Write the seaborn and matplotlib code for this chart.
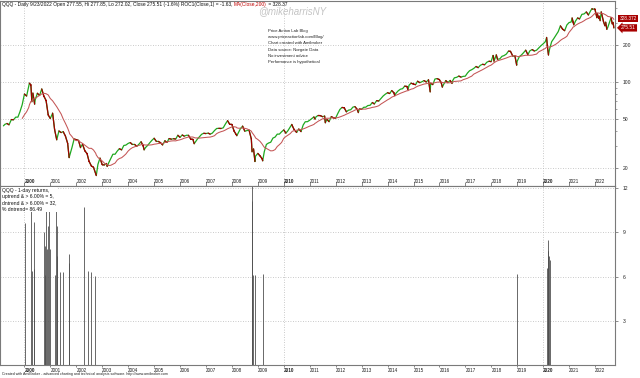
import numpy as np
import pandas as pd
import matplotlib
matplotlib.use("Agg")
import matplotlib.pyplot as plt
import matplotlib.dates as mdates
from matplotlib.ticker import FixedLocator, FixedFormatter, NullFormatter
from matplotlib.transforms import blended_transform_factory
import seaborn as sns

sns.set_style("white")
plt.rcParams['font.family'] = ['Liberation Sans', 'DejaVu Sans']

# ---------------- data ----------------
price_dates = [
    "1999-03-10", "1999-03-31", "1999-04-30", "1999-05-28", "1999-06-30", "1999-07-30", "1999-08-31",
    "1999-09-30", "1999-10-29", "1999-11-30", "1999-12-31",
    "2000-01-31", "2000-02-29", "2000-03-10", "2000-03-31", "2000-04-14", "2000-04-28", "2000-05-23",
    "2000-05-31", "2000-06-30", "2000-07-31", "2000-08-31", "2000-09-29", "2000-10-31", "2000-11-30",
    "2000-12-29",
    "2001-01-31", "2001-02-28", "2001-03-30", "2001-04-30", "2001-05-31", "2001-06-29", "2001-07-31",
    "2001-08-31", "2001-09-21", "2001-09-28", "2001-10-31", "2001-11-30", "2001-12-31",
    "2002-01-31", "2002-02-28", "2002-03-28", "2002-04-30", "2002-05-31", "2002-06-28", "2002-07-31",
    "2002-08-30", "2002-09-30", "2002-10-08", "2002-10-31", "2002-11-29", "2002-12-31",
    "2003-01-31", "2003-02-28", "2003-03-11", "2003-03-31", "2003-04-30", "2003-05-30", "2003-06-30",
    "2003-07-31", "2003-08-29", "2003-09-30", "2003-10-31", "2003-11-28", "2003-12-31",
    "2004-01-30", "2004-02-27", "2004-03-31", "2004-04-30", "2004-05-28", "2004-06-30", "2004-07-30",
    "2004-08-12", "2004-08-31", "2004-09-30", "2004-10-29", "2004-11-30", "2004-12-31",
    "2005-01-31", "2005-02-28", "2005-03-31", "2005-04-29", "2005-05-31", "2005-06-30", "2005-07-29",
    "2005-08-31", "2005-09-30", "2005-10-31", "2005-11-30", "2005-12-30",
    "2006-01-31", "2006-02-28", "2006-03-31", "2006-04-28", "2006-05-31", "2006-06-30", "2006-07-18",
    "2006-07-31", "2006-08-31", "2006-09-29", "2006-10-31", "2006-11-30", "2006-12-29",
    "2007-01-31", "2007-02-28", "2007-03-30", "2007-04-30", "2007-05-31", "2007-06-29", "2007-07-31",
    "2007-08-31", "2007-09-28", "2007-10-31", "2007-11-30", "2007-12-31",
    "2008-01-31", "2008-02-29", "2008-03-10", "2008-03-31", "2008-04-30", "2008-05-30", "2008-06-30",
    "2008-07-31", "2008-08-29", "2008-09-30", "2008-10-10", "2008-10-31", "2008-11-20", "2008-11-28",
    "2008-12-31",
    "2009-01-30", "2009-02-27", "2009-03-09", "2009-03-31", "2009-04-30", "2009-05-29", "2009-06-30",
    "2009-07-31", "2009-08-31", "2009-09-30", "2009-10-30", "2009-11-30", "2009-12-31",
    "2010-01-29", "2010-02-26", "2010-03-31", "2010-04-23", "2010-04-30", "2010-05-28", "2010-06-30",
    "2010-07-30", "2010-08-31", "2010-09-30", "2010-10-29", "2010-11-30", "2010-12-31",
    "2011-01-31", "2011-02-28", "2011-03-16", "2011-03-31", "2011-04-29", "2011-05-31", "2011-06-30",
    "2011-07-29", "2011-08-08", "2011-08-31", "2011-09-30", "2011-10-31", "2011-11-30", "2011-12-30",
    "2012-01-31", "2012-02-29", "2012-03-30", "2012-04-30", "2012-05-31", "2012-06-29", "2012-07-31",
    "2012-08-31", "2012-09-28", "2012-10-31", "2012-11-15", "2012-11-30", "2012-12-31",
    "2013-01-31", "2013-02-28", "2013-03-28", "2013-04-30", "2013-05-31", "2013-06-28", "2013-07-31",
    "2013-08-30", "2013-09-30", "2013-10-31", "2013-11-29", "2013-12-31",
    "2014-01-31", "2014-02-28", "2014-03-31", "2014-04-11", "2014-04-30", "2014-05-30", "2014-06-30",
    "2014-07-31", "2014-08-29", "2014-09-30", "2014-10-15", "2014-10-31", "2014-11-28", "2014-12-31",
    "2015-01-30", "2015-02-27", "2015-03-31", "2015-04-30", "2015-05-29", "2015-06-30", "2015-07-31",
    "2015-08-24", "2015-08-31", "2015-09-30", "2015-10-30", "2015-11-30", "2015-12-31",
    "2016-01-29", "2016-02-11", "2016-02-29", "2016-03-31", "2016-04-29", "2016-05-31", "2016-06-27",
    "2016-06-30", "2016-07-29", "2016-08-31", "2016-09-30", "2016-10-31", "2016-11-30", "2016-12-30",
    "2017-01-31", "2017-02-28", "2017-03-31", "2017-04-28", "2017-05-31", "2017-06-30", "2017-07-31",
    "2017-08-31", "2017-09-29", "2017-10-31", "2017-11-30", "2017-12-29",
    "2018-01-26", "2018-01-31", "2018-02-08", "2018-02-28", "2018-03-12", "2018-03-29", "2018-04-30",
    "2018-05-31", "2018-06-29", "2018-07-31", "2018-08-31", "2018-09-28", "2018-10-31", "2018-11-30",
    "2018-12-24", "2018-12-31",
    "2019-01-31", "2019-02-28", "2019-03-29", "2019-04-30", "2019-05-31", "2019-06-28", "2019-07-31",
    "2019-08-30", "2019-09-30", "2019-10-31", "2019-11-29", "2019-12-31",
    "2020-01-31", "2020-02-19", "2020-02-28", "2020-03-16", "2020-03-31", "2020-04-30", "2020-05-29",
    "2020-06-30", "2020-07-31", "2020-08-31", "2020-09-30", "2020-10-30", "2020-11-30", "2020-12-31",
    "2021-01-29", "2021-02-12", "2021-02-26", "2021-03-08", "2021-03-31", "2021-04-30", "2021-05-28",
    "2021-06-30", "2021-07-30", "2021-08-31", "2021-09-30", "2021-10-29", "2021-11-19", "2021-11-30",
    "2021-12-27", "2021-12-31",
    "2022-01-27", "2022-01-31", "2022-02-23", "2022-02-28", "2022-03-14", "2022-03-29", "2022-04-29",
    "2022-05-20", "2022-05-31", "2022-06-16", "2022-06-30", "2022-07-29", "2022-08-15", "2022-08-31",
    "2022-09-12", "2022-09-23",
]
price_close = [
    43.9, 45.2, 45.9, 44.8, 49.4, 49.2, 51.7,
    51.7, 57.2, 65.4, 79.7,
    76.8, 91.8, 97.7, 94.6, 69.0, 81.2, 65.9,
    71.5, 80.9, 77.6, 87.7, 76.8, 70.6, 53.9,
    50.4,
    55.7, 41.0, 33.8, 39.9, 38.7, 39.4, 36.2,
    31.6, 24.2, 25.1, 29.3, 34.3, 33.9,
    33.4, 29.2, 31.2, 27.5, 26.1, 22.6, 20.7,
    20.2, 17.9, 17.3, 21.3, 24.0, 21.2,
    21.1, 21.7, 20.5, 21.9, 23.8, 25.8, 25.8,
    27.4, 28.6, 28.0, 30.4, 30.6, 31.6,
    32.1, 31.0, 31.0, 29.9, 31.0, 32.6, 30.1,
    28.0, 29.2, 30.4, 31.9, 33.5, 34.8,
    32.8, 32.8, 32.0, 30.7, 33.2, 32.2, 34.6,
    34.2, 34.5, 34.3, 36.8, 35.4,
    37.0, 36.2, 36.8, 36.8, 34.2, 34.1, 31.4,
    32.2, 34.2, 35.7, 37.5, 38.2, 38.0,
    38.3, 37.6, 38.3, 40.2, 41.8, 41.9, 41.8,
    42.3, 45.2, 48.4, 45.2, 45.1,
    39.8, 37.4, 36.5, 38.5, 41.7, 43.7, 39.7,
    40.2, 40.5, 34.3, 27.0, 28.5, 22.5, 24.9,
    26.2,
    25.0, 23.8, 22.8, 27.0, 31.0, 31.8, 32.3,
    34.9, 35.6, 37.6, 37.6, 39.3, 40.7,
    38.3, 40.0, 43.0, 45.1, 44.0, 40.7, 38.8,
    41.4, 39.4, 44.6, 47.4, 47.5, 48.8,
    50.4, 51.9, 49.8, 52.1, 53.3, 53.2, 52.1,
    52.8, 46.5, 49.5, 47.5, 52.2, 51.1, 50.6,
    55.4, 59.7, 62.0, 61.6, 57.1, 58.9, 59.4,
    62.4, 63.0, 59.7, 56.3, 60.3, 59.9,
    62.2, 62.3, 64.2, 64.6, 68.0, 66.2, 70.4,
    70.0, 73.3, 76.9, 79.4, 81.7,
    80.5, 85.1, 81.6, 77.7, 81.0, 84.6, 87.3,
    88.1, 92.4, 91.9, 86.5, 94.2, 97.7, 96.1,
    95.0, 101.4, 98.7, 100.4, 102.6, 100.0, 104.3,
    83.0, 97.7, 95.1, 105.7, 106.4, 104.6,
    97.6, 90.7, 95.4, 102.6, 98.7, 102.8, 97.3,
    101.1, 108.0, 109.1, 111.6, 109.5, 111.0, 111.4,
    118.4, 123.3, 125.8, 128.8, 133.6, 130.7, 136.7,
    139.2, 138.1, 144.9, 147.4, 146.3,
    164.3, 160.3, 147.5, 158.6, 166.2, 152.9, 154.1,
    161.7, 163.9, 168.5, 178.2, 177.4, 162.2, 162.5,
    137.0, 147.4,
    160.8, 165.5, 172.5, 181.4, 166.9, 179.2, 183.5,
    178.6, 181.2, 189.0, 196.7, 204.1,
    212.5, 230.3, 198.9, 165.6, 184.7, 212.8, 225.0,
    240.2, 256.7, 286.1, 269.5, 261.3, 291.0, 304.3,
    307.7, 331.8, 306.8, 291.6, 312.7, 331.7, 326.0,
    355.3, 357.7, 371.4, 350.8, 378.3, 394.9, 390.7,
    393.7, 389.9,
    333.3, 361.2, 328.4, 343.3, 315.4, 372.1, 311.6,
    286.6, 306.6, 268.0, 278.9, 313.5, 333.8, 296.8,
    305.3, 275.51,
]

ret_dates = [
    "2000-01-04", "2000-04-04", "2000-04-12", "2000-05-10", "2000-05-12",
    "2000-10-05", "2000-10-10", "2000-10-13", "2000-11-03", "2000-11-08",
    "2000-11-24", "2000-12-15", "2000-12-20", "2001-03-02", "2001-03-23",
    "2001-03-27", "2001-04-05", "2001-05-11", "2001-06-29", "2001-09-14",
    "2001-09-17", "2002-04-16", "2002-06-17", "2002-07-29", "2002-09-17",
    "2008-10-10", "2008-10-15", "2008-10-28", "2008-11-21", "2009-03-10",
    "2018-12-26",
    "2020-03-02", "2020-03-09", "2020-03-12", "2020-03-16", "2020-03-24",
    "2020-04-06",
]
ret_values = [
    9.6, 10.6, 6.4, 9.7, 6.5,
    9.0, 8.1, 6.1, 10.6, 7.9,
    9.4, 10.6, 7.9, 6.1, 10.6,
    9.4, 7.4, 6.3, 6.3, 7.5,
    6.9, 10.7, 6.4, 6.3, 6.05,
    12.5, 11.1, 6.1, 6.1, 6.2,
    6.2,
    6.6, 8.5, 7.75, 7.75, 7.4,
    7.1,
]

year_ticks = list(range(2000, 2023))
price_ticks = [20, 50, 100, 200]
price_minor = [30, 40, 60, 70, 80, 90, 300, 400]
ret_ticks = [3, 6, 9, 12]

# ---------------- frames ----------------
px = pd.DataFrame({"date": pd.to_datetime(price_dates), "close": price_close})
ma = px.set_index("date")["close"].rolling("290D").mean()
ma[ma.index < px["date"].iloc[0] + pd.Timedelta(days=265)] = np.nan
px["ma"] = ma.values
rt = pd.DataFrame({"date": pd.to_datetime(ret_dates), "ret": ret_values})

W, H = 640, 378
fig = plt.figure(figsize=(W / 100, H / 100), dpi=100)
fig.patch.set_facecolor("white")

def fr(y0, y1):
    return 1 - y1 / H, (y1 - y0) / H

xr = 614.5 / W
b1, h1 = fr(1, 185.7)
b2, h2 = fr(185.7, 365)
ax1 = fig.add_axes([0.0, b1, xr, h1])
ax2 = fig.add_axes([0.0, b2, xr, h2])

xmin, xmax = pd.Timestamp("1999-01-21"), pd.Timestamp("2022-10-02")
GREEN, RED, MAC = "#1fa81f", "#a00000", "#c45555"
GRIDC = "#b8b8b8"

# ---- price panel
sns.lineplot(data=px, x="date", y="close", color=GREEN, lw=0.9, ax=ax1, estimator=None)
dn_x, dn_y = [], []
dnum = mdates.date2num(px["date"]); c = px["close"].tolist()
for i in range(len(c) - 1):
    if c[i + 1] < c[i]:
        dn_x += [dnum[i], dnum[i + 1], np.nan]
        dn_y += [c[i], c[i + 1], np.nan]
ax1.plot(dn_x, dn_y, color=RED, lw=0.9)
sns.lineplot(data=px, x="date", y="ma", color=MAC, lw=0.75, ax=ax1, estimator=None)

ax1.set_yscale("log")
ax1.set_ylim(14.3, 456)
ax1.set_xlim(xmin, xmax)

# ---- returns panel
ax2.vlines(mdates.date2num(rt["date"]), 0, rt["ret"], colors="#505050", lw=0.6, zorder=2)
ax2.set_ylim(0, 12.16)
ax2.set_xlim(xmin, xmax)

for ax in (ax1, ax2):
    ax.set_xlabel(""); ax.set_ylabel("")
    for s in ax.spines.values():
        s.set_color("#7a7a7a"); s.set_linewidth(0.8)
    ax.xaxis.set_major_locator(FixedLocator([mdates.date2num(pd.Timestamp(f"{y}-01-01")) for y in year_ticks]))
    ax.xaxis.set_major_formatter(FixedFormatter([str(y) for y in year_ticks]))
    for y in (2000, 2010, 2020):
        ax.axvline(mdates.date2num(pd.Timestamp(f"{y}-01-01")), color=GRIDC, lw=0.6, ls=(0, (1, 2)), zorder=0)
    ax.yaxis.tick_right()

ax1.yaxis.set_major_locator(FixedLocator(price_ticks))
ax1.yaxis.set_major_formatter(FixedFormatter([str(v) for v in price_ticks]))
ax1.yaxis.set_minor_locator(FixedLocator(price_minor))
ax1.yaxis.set_minor_formatter(NullFormatter())
ax2.yaxis.set_major_locator(FixedLocator(ret_ticks))
ax2.yaxis.set_major_formatter(FixedFormatter([str(v) for v in ret_ticks]))
for ax in (ax1, ax2):
    ax.grid(axis="y", which="major", color=GRIDC, lw=0.6, ls=(0, (1, 2)))
    ax.tick_params(axis="y", which="major", right=True, direction="out", length=2, width=0.6,
                   color="#7a7a7a", labelsize=3.6, pad=4, labelcolor="#222222")
ax1.tick_params(axis="y", which="minor", right=True, direction="out", length=1.2, width=0.5, color="#7a7a7a")

ax1.tick_params(axis="x", bottom=True, direction="in", length=3, width=0.5, color="#555555",
                labelsize=3.3, pad=-4.6, labelcolor="#222222")
ax2.tick_params(axis="x", bottom=True, direction="out", length=1.5, width=0.5, color="#555555",
                labelsize=3.3, pad=0.3, labelcolor="#222222")
for ax in (ax1, ax2):
    for lab in ax.get_xticklabels():
        lab.set_horizontalalignment("left")
        if lab.get_text() in ("2000", "2010", "2020"):
            lab.set_fontweight("bold")

# ---- texts
fig.text(258 / W, 1 - 11 / H, "@mikeharrisNY", fontsize=7, style="italic", color="#c4c4c4",
         va="center", ha="left")
info = ["Price Action Lab Blog", "www.priceactionlab.com/Blog/", "Chart created with Amibroker",
        "Data source: Norgate Data", "No investment advice", "Performance is hypothetical"]
for i, t in enumerate(info):
    fig.text(268 / W, 1 - (31 + 6.25 * i) / H, t, fontsize=3.1, color="#222222", va="center", ha="left")

t1 = fig.text(2 / W, 1 - 4.5 / H,
              "QQQ - Daily 9/23/2022 Open 277.55, Hi 277.85, Lo 272.02, Close 275.51 (-1.6%) ROC1(Close,1) = -1.63, ",
              fontsize=3.5, color="#111111", va="center", ha="left")
fig.canvas.draw()
r = fig.canvas.get_renderer()
bb = t1.get_window_extent(r)
t2 = fig.text(bb.x1 / W, 1 - 4.5 / H, "MA(Close,200)", fontsize=3.5, color="#c00000", va="center", ha="left")
bb2 = t2.get_window_extent(r)
fig.text(bb2.x1 / W, 1 - 4.5 / H, " = 328.37", fontsize=3.5, color="#111111", va="center", ha="left")

# last-value tags on the right
tr1 = blended_transform_factory(ax1.transAxes, ax1.transData)
ax1.text(619.5 / 614.5, 328.372, "328.372", transform=tr1, fontsize=3.4, color="white",
         va="center", ha="left", clip_on=False,
         bbox=dict(boxstyle="square,pad=0.25", fc="#a80000", ec="none"))
ax1.text(621 / 614.5, 275.51, "275.51", transform=tr1, fontsize=3.4, color="white",
         va="center", ha="left", clip_on=False,
         bbox=dict(boxstyle="larrow,pad=0.25", fc="#a80000", ec="none"))

ax2.text(2 / 614.5, 1 - 2 / 179.3,
         "QQQ - 1-day returns,\nuptrend & > 6.00% = 5,\ndntrend & > 6.00% = 32,\n% dntrend= 86.49",
         transform=ax2.transAxes, fontsize=3.6, color="#111111", va="top", ha="left",
         linespacing=1.35, zorder=6,
         bbox=dict(boxstyle="square,pad=0.1", fc="white", ec="none"))

fig.text(2 / W, 1 - 374.5 / H,
         "Created with AmiBroker - advanced charting and technical analysis software. http://www.amibroker.com",
         fontsize=2.6, color="#222222", va="center", ha="left")

fig.savefig("out.png", dpi=100, facecolor="white")
